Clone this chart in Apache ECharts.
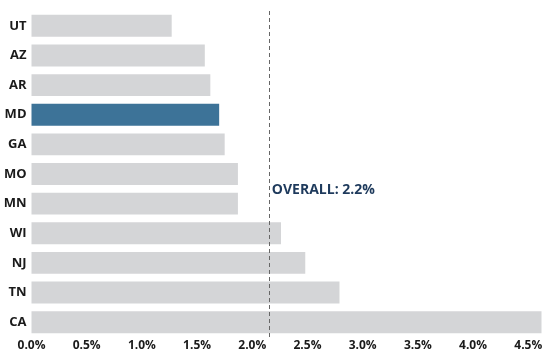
<!DOCTYPE html>
<html><head><meta charset="utf-8">
<script src="https://cdn.jsdelivr.net/npm/echarts@6/dist/echarts.min.js"></script>
<style>html,body{margin:0;padding:0;background:#fff}#c{width:551px;height:361px}</style>
</head><body><div id="c"></div>
<script>
const categories = ['UT','AZ','AR','MD','GA','MO','MN','WI','NJ','TN','CA'];
const values = [1.27,1.57,1.62,1.70,1.75,1.87,1.87,2.26,2.48,2.79,4.62];
const highlight = 'MD';
const overallValue = 2.15;
const overallLabel = 'OVERALL: 2.2%';
const xMax = 4.62;

const font = '"Open Sans", "Noto Sans", sans-serif';
const chart = echarts.init(document.getElementById('c'));
chart.setOption({
  animation: false,
  grid: { left: 31.5, right: 9.5, top: 11, bottom: 24, containLabel: false },
  xAxis: {
    type: 'value', min: 0, max: xMax, interval: 0.5,
    axisLine: { show: false }, axisTick: { show: false }, splitLine: { show: false },
    axisLabel: { showMaxLabel: false, margin: 3, color: '#1a1a1a', fontFamily: font, fontWeight: 'bold', fontSize: 12,
      formatter: v => v.toFixed(1) + '%' }
  },
  yAxis: {
    type: 'category', data: categories, inverse: true,
    axisLine: { show: false }, axisTick: { show: false },
    axisLabel: { margin: 5, color: '#1a1a1a', fontFamily: font, fontWeight: 'bold', fontSize: 13 }
  },
  series: [{
    type: 'bar',
    data: values.map((v, i) => ({ value: v, itemStyle: { color: categories[i] === highlight ? '#3d7398' : '#d4d5d7' } })),
    barCategoryGap: '26%',
    markLine: {
      silent: true, symbol: 'none',
      lineStyle: { color: '#666', width: 1, type: [4, 3] },
      label: { show: false },
      data: [{ xAxis: overallValue }]
    },
    markPoint: {
      silent: true, symbol: 'circle', symbolSize: 0,
      data: [{ coord: [overallValue, 'MO'],
        label: { show: true, position: 'right', distance: 3, offset: [0, 16], formatter: overallLabel,
          color: '#1e3a5c', fontFamily: font, fontWeight: 'bold', fontSize: 14 } }]
    }
  }]
});
</script></body></html>
